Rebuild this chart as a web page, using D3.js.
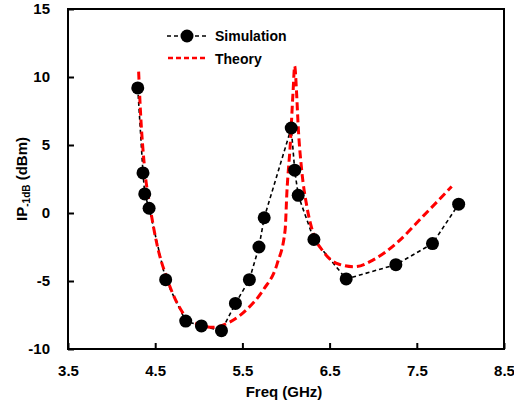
<!DOCTYPE html>
<html>
<head>
<meta charset="utf-8">
<script src="https://cdn.jsdelivr.net/npm/d3@7"></script>
<style>
  body { margin: 0; background: #fff; }
  text { font-family: "Liberation Sans", Arial, sans-serif; font-weight: bold; fill: #000; }
</style>
</head>
<body>
<div id="chart"></div>
<script>
// simulated points (freq GHz, IP-1dB dBm)
var simFreq = [4.30, 4.36, 4.38, 4.43, 4.62, 4.85, 5.03, 5.26, 5.42, 5.58, 5.69, 5.75, 6.06, 6.10, 6.14, 6.32, 6.69, 7.26, 7.68, 7.98]
var simVal  = [9.2, 2.95, 1.4, 0.35, -4.9, -7.95, -8.3, -8.65, -6.65, -4.9, -2.5, -0.35, 6.25, 3.15, 1.3, -1.95, -4.85, -3.8, -2.25, 0.65]

// theory curve
var thFreq = [4.31, 4.33, 4.38, 4.44, 4.52, 4.64, 4.75, 4.86, 5.0, 5.16, 5.36, 5.55, 5.74, 5.90, 5.99, 6.01, 6.05, 6.08, 6.10, 6.12, 6.14, 6.18, 6.24, 6.31, 6.43, 6.60, 6.79, 7.0, 7.27, 7.57, 7.90]
var thVal  = [10.4, 7.6, 3.2, 0.5, -2.3, -4.9, -6.6, -7.7, -8.2, -8.4, -8.0, -7.1, -5.65, -3.7, -1.25, 1.5, 5.15, 8.8, 10.8, 9.0, 6.35, 3.15, 0.45, -1.45, -2.85, -3.75, -3.95, -3.45, -2.2, -0.25, 1.95]

var xTicks = [3.5, 4.5, 5.5, 6.5, 7.5, 8.5]
var yTicks = [-10, -5, 0, 5, 10, 15]

var width = 514, height = 406
var plotL = 68, plotR = 504, plotT = 9, plotB = 349

var svg = d3.select("#chart").append("svg")
    .attr("width", width)
    .attr("height", height)

var xScale = d3.scaleLinear().domain([3.5, 8.5]).range([plotL, plotR])
var yScale = d3.scaleLinear().domain([-10, 15]).range([plotB, plotT])

// frame
svg.append("rect")
    .attr("x", plotL).attr("y", plotT)
    .attr("width", plotR - plotL).attr("height", plotB - plotT)
    .style("fill", "none").style("stroke", "#000").style("stroke-width", 2)

// axes, ticks pointing inwards
var xAxis = d3.axisBottom(xScale).tickValues(xTicks).tickSizeInner(-6).tickSizeOuter(0).tickPadding(16)
  .tickFormat(function(d) { return d.toFixed(1) })
var gx = svg.append("g").attr("transform", "translate(0," + plotB + ")").call(xAxis)
gx.select(".domain").remove()
gx.selectAll("line").style("stroke", "#000").style("stroke-width", 2)
gx.selectAll("text").style("font-size", "15px").style("font-family", "Liberation Sans, Arial, sans-serif").style("font-weight", "bold")

// plain hyphen for negatives, like the original
var yAxis = d3.axisLeft(yScale).tickValues(yTicks).tickSizeInner(-6).tickSizeOuter(0).tickPadding(18)
  .tickFormat(function(d) { return String(d) })
var gy = svg.append("g").attr("transform", "translate(" + plotL + ",0)").call(yAxis)
gy.select(".domain").remove()
gy.selectAll("line").style("stroke", "#000").style("stroke-width", 2)
gy.selectAll("text").style("font-size", "15px").style("font-family", "Liberation Sans, Arial, sans-serif").style("font-weight", "bold")

var thData = thFreq.map(function(f, i) { return [f, thVal[i]] })
var simData = simFreq.map(function(f, i) { return [f, simVal[i]] })

var line = d3.line()
    .x(function(d) { return xScale(d[0]) })
    .y(function(d) { return yScale(d[1]) })

// simulation dashed line
svg.append("path")
    .datum(simData)
    .attr("d", line)
    .style("fill", "none").style("stroke", "#000")
    .style("stroke-width", 1.6).style("stroke-dasharray", "4,3")

// theory curve
svg.append("path")
    .datum(thData)
    .attr("d", line.curve(d3.curveMonotoneX))
    .style("fill", "none").style("stroke", "#ff0000")
    .style("stroke-width", 3).style("stroke-dasharray", "8,4")

svg.selectAll(".pt")
    .data(simData)
    .enter()
    .append("circle")
    .attr("class", "pt")
    .attr("cx", function(d) { return xScale(d[0]) })
    .attr("cy", function(d) { return yScale(d[1]) })
    .attr("r", 6.5)
    .style("fill", "#000")

// legend
svg.append("line").attr("x1", 167).attr("x2", 207).attr("y1", 36).attr("y2", 36)
    .style("stroke", "#000").style("stroke-width", 1.6).style("stroke-dasharray", "4,3")
svg.append("circle").attr("cx", 187).attr("cy", 36).attr("r", 6.5).style("fill", "#000")
svg.append("text").attr("x", 215).attr("y", 41).style("font-size", "14px").text("Simulation")

svg.append("line").attr("x1", 168).attr("x2", 208).attr("y1", 58).attr("y2", 58)
    .style("stroke", "#ff0000").style("stroke-width", 2.5).style("stroke-dasharray", "5,3")
svg.append("text").attr("x", 215).attr("y", 64).style("font-size", "14px").text("Theory")

// axis titles
svg.append("text")
    .attr("x", 284).attr("y", 397)
    .style("text-anchor", "middle").style("font-size", "15px")
    .text("Freq (GHz)")

var yLab = svg.append("text")
    .attr("transform", "translate(27," + 179 + ") rotate(-90)")
    .style("text-anchor", "middle").style("font-size", "15px")
yLab.append("tspan").text("IP")
yLab.append("tspan").attr("dy", 3).style("font-size", "10px").text("-1dB")
yLab.append("tspan").attr("dy", -3).text(" (dBm)")
</script>
</body>
</html>
